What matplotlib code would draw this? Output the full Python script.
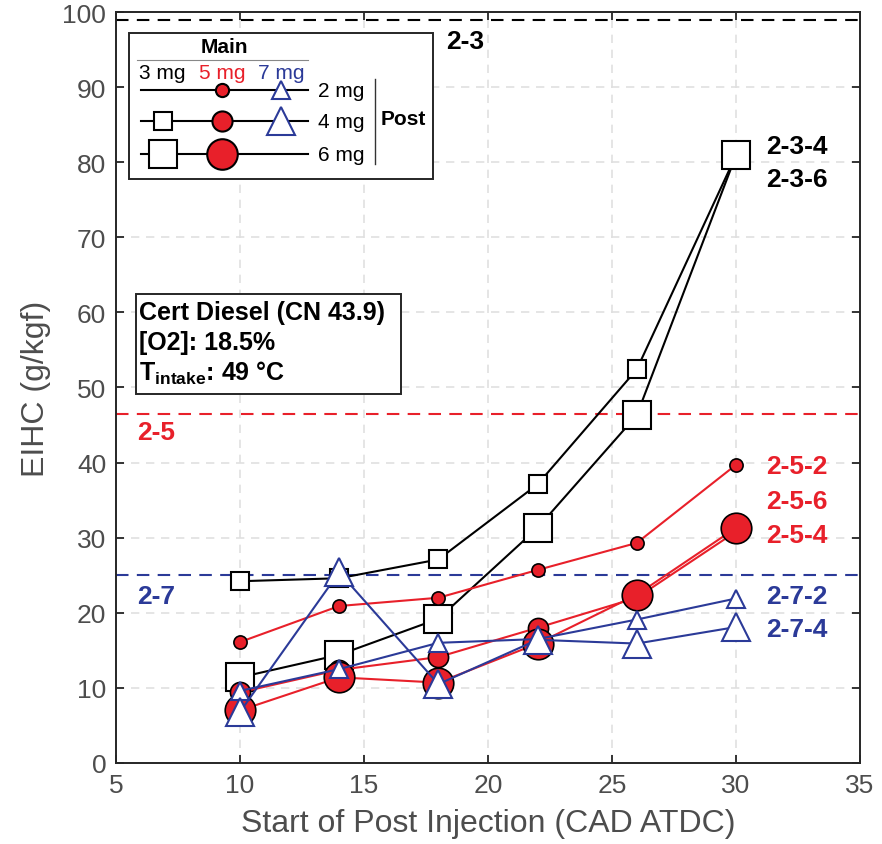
import matplotlib
matplotlib.use("Agg")
import matplotlib.pyplot as plt
from matplotlib.patches import Rectangle
from matplotlib.lines import Line2D

plt.rcParams["font.family"] = ["Liberation Sans", "DejaVu Sans"]
plt.rcParams["mathtext.fontset"] = "custom"
plt.rcParams["mathtext.rm"] = "Liberation Sans"
plt.rcParams["mathtext.bf"] = "Liberation Sans:bold"

# start of post injection (CAD ATDC)
soi = [10, 14, 18, 22, 26, 30]

# EIHC (g/kgf), series named pilot-main-post (mg)
eihc_2_3_4 = [24.2, 24.6, 27.1, 37.1, 52.4, 80.9]
eihc_2_3_6 = [11.4, 14.4, 19.2, 31.3, 46.3, 80.9]
eihc_2_5_2 = [16.1, 20.9, 22.0, 25.7, 29.3, 39.7]
eihc_2_5_4 = [9.4, 12.4, 14.1, 18.0, 22.0, 30.8]
eihc_2_5_6 = [7.0, 11.4, 10.7, 15.9, 22.4, 31.3]
eihc_2_7_2 = [9.6, 12.5, 16.0, 16.5, 19.1, 21.9]
eihc_2_7_4 = [6.8, 25.4, 10.5, 16.4, 15.9, 18.1]

# no post injection reference levels
ref_labels = ["2-3", "2-5", "2-7"]
ref_levels = [98.9, 46.5, 25.0]

BLACK = "#000000"
RED = "#e8202a"
BLUE = "#2b3a98"
GRAY = "#4d4d4d"

fig = plt.figure(figsize=(8.82, 8.45), dpi=100)
ax = fig.add_axes([0.1315, 0.0959, 0.8435, 0.8887])

ax.set_xlim(5, 35)
ax.set_ylim(0, 100)
ax.set_xticks(range(5, 36, 5))
ax.set_yticks(range(0, 101, 10))
ax.grid(True, color="#e0e0e0", linestyle=(0, (5, 4)), linewidth=1.2)
ax.set_axisbelow(True)
ax.tick_params(direction="in", length=6, width=1.3, top=True, right=True,
               labelsize=19, colors="#262626", labelcolor=GRAY, pad=7)
for sp in ax.spines.values():
    sp.set_color("#262626")
    sp.set_linewidth(1.4)
ax.set_xlabel("Start of Post Injection (CAD ATDC)", fontsize=23, color=GRAY, labelpad=8)
ax.set_ylabel("EIHC (g/kgf)", fontsize=23, color=GRAY, labelpad=8)

# reference dashed lines
ref_colors = [BLACK, RED, BLUE]
for lvl, c in zip(ref_levels, ref_colors):
    ax.axhline(lvl, color=c, linestyle=(0, (6, 4)), linewidth=1.5, zorder=2)
ax.text(18.3, 96.1, ref_labels[0], color=BLACK, fontsize=19, fontweight="bold", va="center")
ax.text(5.85, 44.1, ref_labels[1], color=RED, fontsize=19, fontweight="bold", va="center")
ax.text(5.85, 22.3, ref_labels[2], color=BLUE, fontsize=19, fontweight="bold", va="center")

lw = 1.5
sq_small, sq_big = 13, 19.5
c_small, c_mid, c_big = 9.5, 14.5, 22
t_small, t_big = 13, 20

# black: main 3 mg
ax.plot(soi, eihc_2_3_4, color=BLACK, lw=lw, marker="s", ms=sq_small,
        mfc="white", mec=BLACK, mew=1.5, zorder=3)
ax.plot(soi, eihc_2_3_6, color=BLACK, lw=lw, marker="s", ms=sq_big,
        mfc="white", mec=BLACK, mew=1.5, zorder=3)
# red: main 5 mg
ax.plot(soi, eihc_2_5_2, color=RED, lw=lw, marker="o", ms=c_small,
        mfc=RED, mec=BLACK, mew=1.2, zorder=4)
ax.plot(soi, eihc_2_5_4, color=RED, lw=lw, marker="o", ms=c_mid,
        mfc=RED, mec=BLACK, mew=1.2, zorder=4)
ax.plot(soi, eihc_2_5_6, color=RED, lw=lw, marker="o", ms=c_big,
        mfc=RED, mec=BLACK, mew=1.2, zorder=4)
# blue: main 7 mg
ax.plot(soi, eihc_2_7_2, color=BLUE, lw=lw, marker="^", ms=t_small,
        mfc="white", mec=BLUE, mew=1.5, zorder=5)
ax.plot(soi, eihc_2_7_4, color=BLUE, lw=lw, marker="^", ms=t_big,
        mfc="white", mec=BLUE, mew=1.5, zorder=5)

# end labels
end_labels = [("2-3-4", 82.2, BLACK), ("2-3-6", 77.8, BLACK),
              ("2-5-2", 39.6, RED), ("2-5-6", 34.9, RED), ("2-5-4", 30.3, RED),
              ("2-7-2", 22.3, BLUE), ("2-7-4", 17.8, BLUE)]
for txt, yv, c in end_labels:
    ax.text(31.2, yv, txt, color=c, fontsize=19, fontweight="bold", va="center")

# custom legend box (axes fraction coordinates from pixel layout)
def fx(px):
    return (px - 116) / 744


def fy(py):
    return (764 - py) / 751


tr = ax.transAxes
ax.add_patch(Rectangle((fx(129), fy(180)), fx(433) - fx(129), fy(34) - fy(180),
                       transform=tr, facecolor="white", edgecolor="#262626",
                       linewidth=1.4, zorder=10))
ax.text(fx(224), fy(47), "Main", transform=tr, ha="center", va="center",
        fontsize=15, fontweight="bold", zorder=11)
ax.add_line(Line2D([fx(137), fx(308)], [fy(61), fy(61)], transform=tr,
                   color="#888888", lw=0.8, zorder=11))
for px, lab, c in [(162, "3 mg", BLACK), (222, "5 mg", RED), (281, "7 mg", BLUE)]:
    ax.text(fx(px), fy(73), lab, transform=tr, ha="center", va="center",
            fontsize=15, color=c, zorder=11)

rows = [
    (91, "2 mg", [(222, "o", c_small, RED, BLACK), (281, "^", t_small, "white", BLUE)]),
    (122, "4 mg", [(163, "s", sq_small, "white", BLACK), (222, "o", c_mid, RED, BLACK),
                   (281, "^", t_big, "white", BLUE)]),
    (155, "6 mg", [(163, "s", sq_big, "white", BLACK), (222, "o", c_big, RED, BLACK)]),
]
for py, lab, marks in rows:
    ax.add_line(Line2D([fx(141), fx(308)], [fy(py), fy(py)], transform=tr,
                       color=BLACK, lw=1.5, zorder=11))
    for px, m, ms, fc, ec in marks:
        ax.add_line(Line2D([fx(px)], [fy(py)], transform=tr, marker=m, ms=ms,
                           mfc=fc, mec=ec, mew=1.5, zorder=12))
    ax.text(fx(318), fy(py), lab, transform=tr, va="center", fontsize=15, zorder=11)
ax.add_line(Line2D([fx(375), fx(375)], [fy(80), fy(165)], transform=tr,
                   color="#333333", lw=1.0, zorder=11))
ax.text(fx(403), fy(119), "Post", transform=tr, ha="center", va="center",
        fontsize=15, fontweight="bold", zorder=11)

# conditions box
ax.add_patch(Rectangle((fx(136), fy(395)), fx(401) - fx(136), fy(295) - fy(395),
                       transform=tr, facecolor="white", edgecolor="#262626",
                       linewidth=1.4, zorder=10))
cond_lines = ["Cert Diesel (CN 43.9)", "[O2]: 18.5%",
              r"$\mathbf{T}_{\mathbf{intake}}$: 49 °C"]
for py, txt in zip([313, 343, 373], cond_lines):
    ax.text(fx(139), fy(py), txt, transform=tr, va="center", fontsize=18,
            fontweight="bold", zorder=11)

fig.savefig("out.png", dpi=100)
